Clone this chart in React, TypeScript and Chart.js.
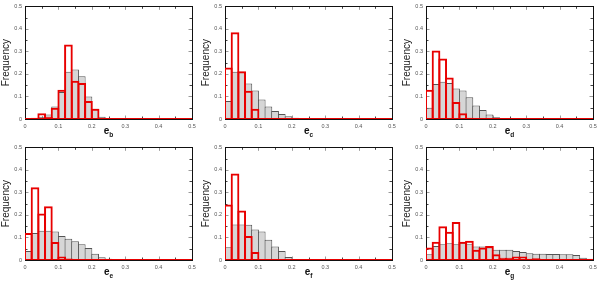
import React, { useEffect, useRef } from "react";
import { Chart, registerables } from "chart.js";

Chart.register(...registerables);

const BIN_WIDTH = 0.02;
const TICK_VALUES = [0, 0.1, 0.2, 0.3, 0.4, 0.5];
const TICK_LABELS = ["0", "0.1", "0.2", "0.3", "0.4", "0.5"];
const Y_TITLE = "Frequency";

// gray histograms (25 bins of width 0.02 from 0 to 0.5)
const GRAY_B = [0, 0.003, 0.01, 0.02, 0.055, 0.12, 0.21, 0.22, 0.19, 0.1, 0.045, 0.01, 0.004, 0, 0, 0, 0, 0, 0, 0, 0, 0, 0, 0, 0];
const RED_B = [0, 0.005, 0.025, 0.01, 0.05, 0.13, 0.33, 0.17, 0.16, 0.08, 0.045, 0, 0, 0, 0, 0, 0, 0, 0, 0, 0, 0, 0, 0, 0];

const GRAY_C = [0.08, 0.21, 0.21, 0.158, 0.126, 0.086, 0.055, 0.035, 0.022, 0.012, 0.005, 0.002, 0, 0, 0, 0, 0, 0, 0, 0, 0, 0, 0, 0, 0];
const RED_C = [0.228, 0.385, 0.212, 0.125, 0.045, 0, 0, 0, 0, 0, 0, 0, 0, 0, 0, 0, 0, 0, 0, 0, 0, 0, 0, 0, 0];

const GRAY_D = [0.05, 0.155, 0.165, 0.16, 0.135, 0.126, 0.096, 0.06, 0.04, 0.02, 0.008, 0.002, 0, 0, 0, 0, 0, 0, 0, 0, 0, 0, 0, 0, 0];
const RED_D = [0.13, 0.304, 0.268, 0.184, 0.075, 0.025, 0.005, 0, 0, 0, 0, 0, 0, 0, 0, 0, 0, 0, 0, 0, 0, 0, 0, 0, 0];

const GRAY_E = [0.04, 0.12, 0.13, 0.13, 0.126, 0.107, 0.094, 0.083, 0.07, 0.053, 0.028, 0.012, 0.005, 0.002, 0, 0, 0, 0, 0, 0, 0, 0, 0, 0, 0];
const RED_E = [0.12, 0.323, 0.206, 0.238, 0.08, 0.016, 0.007, 0, 0, 0, 0, 0, 0, 0, 0, 0, 0, 0, 0, 0, 0, 0, 0, 0, 0];

const GRAY_F = [0.057, 0.158, 0.158, 0.156, 0.135, 0.126, 0.09, 0.06, 0.04, 0.013, 0, 0, 0, 0, 0, 0, 0, 0, 0, 0, 0, 0, 0, 0, 0];
const RED_F = [0.246, 0.384, 0.22, 0.107, 0.035, 0, 0, 0, 0, 0, 0, 0, 0, 0, 0, 0, 0, 0, 0, 0, 0, 0, 0, 0, 0];

const GRAY_G = [0.025, 0.062, 0.07, 0.074, 0.07, 0.074, 0.07, 0.06, 0.06, 0.055, 0.045, 0.045, 0.045, 0.04, 0.035, 0.03, 0.028, 0.028, 0.027, 0.027, 0.025, 0.025, 0.022, 0.01, 0.005];
const RED_G = [0.056, 0.081, 0.15, 0.125, 0.169, 0.081, 0.085, 0.046, 0.056, 0.062, 0.025, 0.01, 0.01, 0.016, 0.015, 0.005, 0.008, 0, 0, 0, 0, 0, 0, 0, 0];

const PANELS = [
  { sub: "b", gray: GRAY_B, red: RED_B },
  { sub: "c", gray: GRAY_C, red: RED_C },
  { sub: "d", gray: GRAY_D, red: RED_D },
  { sub: "e", gray: GRAY_E, red: RED_E },
  { sub: "f", gray: GRAY_F, red: RED_F },
  { sub: "g", gray: GRAY_G, red: RED_G },
];

const FONT = "'Liberation Sans', Arial, Helvetica, sans-serif";
const RED = "rgb(232,0,0)";

const framePlugin = {
  id: "frame",
  beforeDatasetsDraw(chart: any) {
    const { ctx, chartArea } = chart;
    const xs = chart.scales.x;
    const ys = chart.scales.y;
    const { left, right, top, bottom } = chartArea;
    ctx.save();
    // inward ticks
    for (let k = 0; k <= 10; k++) {
      const v = k * 0.05;
      const major = k % 2 === 0;
      const len = major ? 3.5 : 2.5;
      ctx.strokeStyle = major ? "#9a9a9a" : "#444";
      ctx.lineWidth = 1;
      const py = Math.round(ys.getPixelForValue(v)) + 0.5;
      const px = Math.round(xs.getPixelForValue(v)) + 0.5;
      ctx.beginPath();
      ctx.moveTo(left, py);
      ctx.lineTo(left + len, py);
      ctx.moveTo(right, py);
      ctx.lineTo(right - len, py);
      ctx.moveTo(px, top);
      ctx.lineTo(px, top + len);
      ctx.moveTo(px, bottom);
      ctx.lineTo(px, bottom - len);
      ctx.stroke();
    }
    ctx.strokeStyle = "#111";
    ctx.lineWidth = 1;
    ctx.strokeRect(Math.round(left) + 0.5, Math.round(top) + 0.5, Math.round(right - left), Math.round(bottom - top));
    ctx.restore();
  },
};

function Panel({ gray, red }: { gray: number[]; red: number[] }) {
  const ref = useRef<HTMLCanvasElement | null>(null);
  useEffect(() => {
    if (!ref.current) return;
    const centers = gray.map((_, i) => BIN_WIDTH * i + BIN_WIDTH / 2);
    const chart = new Chart(ref.current, {
      type: "bar",
      data: {
        datasets: [
          {
            type: "line",
            data: [
              { x: TICK_VALUES[0], y: 0 },
              { x: TICK_VALUES[TICK_VALUES.length - 1], y: 0 },
            ],
            borderColor: RED,
            borderWidth: 2,
            pointRadius: 0,
            order: 0,
          } as any,
          {
            type: "bar",
            data: red.map((v, i) => ({ x: centers[i], y: v })),
            backgroundColor: "rgba(255,255,255,0)",
            borderColor: RED,
            borderWidth: 2,
            barPercentage: 1.3,
            categoryPercentage: 1,
            grouped: false,
            order: 1,
          } as any,
          {
            type: "bar",
            data: gray.map((v, i) => ({ x: centers[i], y: v })),
            backgroundColor: "#d6d6d6",
            borderColor: "#555",
            borderWidth: 1,
            barPercentage: 1.15,
            categoryPercentage: 1,
            grouped: false,
            order: 2,
          } as any,
        ],
      },
      options: {
        animation: false,
        responsive: false,
        maintainAspectRatio: false,
        layout: { padding: { top: 4, right: 8, left: 0, bottom: 0 } },
        plugins: { legend: { display: false }, tooltip: { enabled: false } },
        scales: {
          x: {
            type: "linear",
            min: 0,
            max: 0.5,
            offset: false,
            grid: { display: false, drawTicks: false },
            border: { display: false },
            afterBuildTicks: (s: any) => {
              s.ticks = TICK_VALUES.map((v) => ({ value: v }));
            },
            ticks: {
              autoSkip: false,
              maxRotation: 0,
              padding: 4,
              color: "#555",
              font: { size: 5.5, family: FONT },
              callback: (_v: any, i: number) => TICK_LABELS[i],
            },
            afterFit: (s: any) => {
              s.height = 22;
            },
          },
          y: {
            type: "linear",
            min: 0,
            max: 0.5,
            grid: { display: false, drawTicks: false },
            border: { display: false },
            afterBuildTicks: (s: any) => {
              s.ticks = TICK_VALUES.map((v) => ({ value: v }));
            },
            ticks: {
              autoSkip: false,
              padding: 3,
              color: "#555",
              font: { size: 5.5, family: FONT },
              callback: (_v: any, i: number) => TICK_LABELS[i],
            },
            title: {
              display: true,
              text: Y_TITLE,
              color: "#222",
              font: { size: 10, family: FONT },
              padding: 0,
            },
            afterFit: (s: any) => {
              s.width = 25;
            },
          },
        },
      } as any,
      plugins: [framePlugin],
    });
    return () => chart.destroy();
  }, [gray, red]);
  return <canvas ref={ref} width={200} height={141} style={{ display: "block", width: 200, height: 141 }} />;
}

export default function App() {
  const lefts = [0, 200, 401];
  const tops = [0, 141];
  return (
    <div style={{ position: "fixed", left: 0, top: 0, width: 600, height: 282, background: "#fff", overflow: "hidden" }}>
      {PANELS.map((p, idx) => {
        const col = idx % 3;
        const row = Math.floor(idx / 3);
        const left = lefts[col];
        const top = tops[row];
        return (
          <div key={p.sub} style={{ position: "absolute", left, top, width: 200, height: 141 }}>
            <Panel gray={p.gray} red={p.red} />
            <div
              style={{
                position: "absolute",
                left: 25,
                width: 167,
                top: 126,
                textAlign: "center",
                fontFamily: FONT,
                fontWeight: "bold",
                fontSize: 10,
                lineHeight: "10px",
                color: "#111",
              }}
            >
              e<span style={{ fontSize: 6.5, position: "relative", top: 3 }}>{p.sub}</span>
            </div>
          </div>
        );
      })}
    </div>
  );
}
